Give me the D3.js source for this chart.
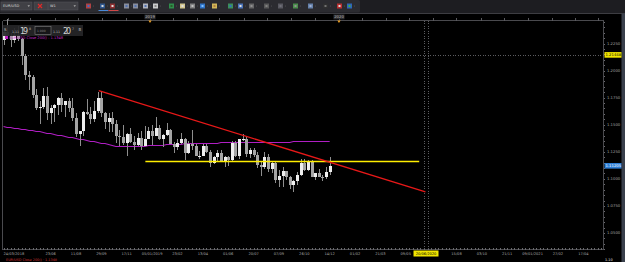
<!DOCTYPE html>
<html>
<head>
<meta charset="utf-8">
<script src="https://cdn.jsdelivr.net/npm/d3@7"></script>
<style>
  html, body { margin: 0; padding: 0; background: #000; overflow: hidden; }
  svg { display: block; font-family: "DejaVu Sans", sans-serif; }
</style>
</head>
<body>
<svg id="chart" width="625" height="262"></svg>
<script>
// weekly EUR/USD candles, first bar dated 24/03/2018
const firstWeek = '2018-03-24';
const opens = [1.2285,1.2352,1.2323,1.2280,1.2330,1.2287,1.2130,1.1960,1.1940,1.1770,
  1.1650,1.1660,1.1765,1.1610,1.1655,1.1685,1.1745,1.1685,1.1720,1.1655,
  1.1565,1.1410,1.1440,1.1620,1.1600,1.1550,1.1625,1.1745,1.1605,1.1525,
  1.1560,1.1510,1.1400,1.1385,1.1335,1.1415,1.1340,1.1315,1.1375,1.1305,
  1.1370,1.1445,1.1395,1.1470,1.1365,1.1405,1.1455,1.1325,1.1295,1.1335,
  1.1365,1.1235,1.1325,1.1300,1.1215,1.1215,1.1300,1.1245,1.1150,1.1200,
  1.1235,1.1160,1.1205,1.1170,1.1335,1.1210,1.1370,1.1370,1.1225,1.1270,
  1.1220,1.1125,1.1105,1.1200,1.1090,1.1145,1.0985,1.1030,1.1075,1.1015,
  1.0940,1.0980,1.1040,1.1145,1.1080,1.1165,1.1020,1.1050,1.1020,1.1015,1.1060];
const highs = [1.2388,1.2476,1.2345,1.2396,1.2414,1.2300,1.2150,1.1997,1.1955,1.1830,
  1.1720,1.1840,1.1852,1.1680,1.1690,1.1760,1.1790,1.1720,1.1750,1.1745,
  1.1610,1.1445,1.1625,1.1735,1.1660,1.1720,1.1800,1.1815,1.1620,1.1610,
  1.1620,1.1545,1.1455,1.1500,1.1420,1.1470,1.1400,1.1425,1.1445,1.1485,
  1.1475,1.1500,1.1570,1.1500,1.1415,1.1515,1.1465,1.1342,1.1370,1.1420,
  1.1375,1.1345,1.1450,1.1325,1.1255,1.1325,1.1325,1.1265,1.1215,1.1265,
  1.1265,1.1215,1.1215,1.1350,1.1350,1.1370,1.1410,1.1385,1.1285,1.1285,
  1.1250,1.1160,1.1250,1.1230,1.1155,1.1165,1.1085,1.1110,1.1075,1.1025,
  1.0985,1.1060,1.1180,1.1180,1.1175,1.1175,1.1055,1.1095,1.1040,1.1110,1.1200];
const lows = [1.2240,1.2290,1.2215,1.2255,1.2270,1.2055,1.1910,1.1820,1.1750,1.1640,
  1.1510,1.1645,1.1540,1.1508,1.1525,1.1590,1.1615,1.1575,1.1615,1.1530,
  1.1385,1.1300,1.1400,1.1590,1.1510,1.1525,1.1610,1.1575,1.1465,1.1430,
  1.1430,1.1335,1.1300,1.1315,1.1215,1.1335,1.1265,1.1305,1.1270,1.1300,
  1.1365,1.1310,1.1395,1.1355,1.1290,1.1395,1.1320,1.1235,1.1265,1.1325,
  1.1175,1.1225,1.1270,1.1210,1.1185,1.1215,1.1235,1.1110,1.1135,1.1160,
  1.1155,1.1105,1.1115,1.1165,1.1205,1.1180,1.1350,1.1205,1.1195,1.1200,
  1.1100,1.1025,1.1090,1.1065,1.1050,1.0965,1.0925,1.0925,1.0990,1.0905,
  1.0879,1.0940,1.1025,1.1070,1.1075,1.1015,1.0990,1.1015,1.0980,1.1000,1.1040];
const closes = [1.2352,1.2323,1.2280,1.2330,1.2287,1.2130,1.1960,1.1940,1.1770,1.1650,
  1.1660,1.1765,1.1610,1.1655,1.1685,1.1745,1.1685,1.1720,1.1655,1.1565,
  1.1410,1.1440,1.1620,1.1600,1.1550,1.1625,1.1745,1.1605,1.1525,1.1560,
  1.1510,1.1400,1.1385,1.1335,1.1415,1.1340,1.1315,1.1375,1.1305,1.1370,
  1.1445,1.1395,1.1470,1.1365,1.1405,1.1455,1.1325,1.1295,1.1335,1.1365,
  1.1235,1.1325,1.1300,1.1215,1.1215,1.1300,1.1245,1.1150,1.1200,1.1235,
  1.1160,1.1205,1.1170,1.1335,1.1210,1.1370,1.1370,1.1225,1.1270,1.1220,
  1.1125,1.1105,1.1200,1.1090,1.1145,1.0985,1.1030,1.1075,1.1015,1.0940,
  1.0980,1.1040,1.1145,1.1080,1.1165,1.1020,1.1050,1.1020,1.1015,1.1060,1.1120];
// 200 period moving average of the close, one value per bar
const ma200 = [1.1485,1.1481,1.1476,1.1472,1.1467,1.1463,1.1458,1.1453,1.1449,1.1444,
  1.1438,1.1432,1.1426,1.1420,1.1414,1.1408,1.1401,1.1395,1.1389,1.1383,
  1.1377,1.1370,1.1364,1.1358,1.1352,1.1346,1.1340,1.1333,1.1327,1.1320,
  1.1313,1.1306,1.1305,1.1304,1.1304,1.1305,1.1305,1.1306,1.1307,1.1308,
  1.1309,1.1312,1.1314,1.1315,1.1316,1.1318,1.1322,1.1324,1.1325,1.1326,
  1.1327,1.1328,1.1329,1.1330,1.1330,1.1331,1.1332,1.1332,1.1333,1.1334,
  1.1336,1.1337,1.1337,1.1338,1.1338,1.1339,1.1339,1.1340,1.1340,1.1340,
  1.1341,1.1341,1.1341,1.1342,1.1342,1.1342,1.1343,1.1343,1.1344,1.1344,
  1.1345,1.1345,1.1346,1.1346,1.1346,1.1347,1.1347,1.1347,1.1348,1.1348,1.1348];

const priceTicks = [1.05, 1.075, 1.10, 1.125, 1.15, 1.175, 1.20, 1.225];
const dateTicks = ['2018-06-23','2018-08-11','2018-09-29','2018-11-17','2019-01-05','2019-02-23',
  '2019-04-13','2019-06-01','2019-07-20','2019-09-07','2019-10-26','2019-12-14','2020-02-01',
  '2020-03-21','2020-05-09','2020-08-15','2020-10-03','2020-11-21','2021-01-09','2021-02-27','2021-04-17'];
const yearMarks = ['2019', '2020'];

const trendLine = [{date: '2018-09-24', price: 1.1815}, {date: '2020-06-16', price: 1.0880}];
const supportLine = [{date: '2018-12-23', price: 1.1165}, {date: '2020-06-04', price: 1.1165}];
const crossDates = ['2020-06-13', '2020-06-20'];
const crossPrice = 1.21448;
const lastPrice = 1.11205;
const maLabel = 'EUR/USD Close 200() : 1.1348';

const parse = d3.timeParse('%Y-%m-%d');
const svg = d3.select('#chart');

const x = d3.scaleTime().domain([parse('2018-03-23'), parse('2021-05-25')]).range([3, 603]);
const y = d3.scaleLinear().domain([1.05, 1.225]).range([233, 43.5]);
const plotTop = 20.5, plotBottom = 249.5, plotLeft = 2.5, plotRight = 603.5;
const px = v => Math.round(v) + 0.5;

const bars = closes.map((c, i) => ({
  date: d3.timeDay.offset(parse(firstWeek), 7 * i),
  o: opens[i], h: highs[i], l: lows[i], c: c, ma: ma200[i]
}));

// header / toolbar
svg.append('rect').attr('width', 625).attr('height', 13).attr('fill', '#1d1d21');
svg.append('rect').attr('x', 0).attr('y', 0).attr('width', 360).attr('height', 12.5).attr('rx', 1.5).attr('fill', '#2b2b30');
svg.append('line').attr('x1', 0).attr('x2', 625).attr('y1', 13.5).attr('y2', 13.5).attr('stroke', '#3d3d42');

const tb = svg.append('g');
tb.append('rect').attr('x', 1).attr('y', 2).attr('width', 31).attr('height', 8).attr('fill', '#404045').attr('stroke', '#56565c').attr('stroke-width', 0.5);
tb.append('text').attr('x', 3).attr('y', 7.3).attr('font-size', 3.6).attr('fill', '#d8d8d8').text('EUR/USD');
tb.append('path').attr('d', 'M27.5,5.3h2.5l-1.25,1.6z').attr('fill', '#aaa');
tb.append('rect').attr('x', 34).attr('y', 2).attr('width', 44).attr('height', 8).attr('fill', '#404045').attr('stroke', '#56565c').attr('stroke-width', 0.5);
tb.append('path').attr('d', 'M38,4l4,4M42,4l-4,4').attr('stroke', '#e02828').attr('stroke-width', 1.2);
tb.append('line').attr('x1', 48).attr('x2', 48).attr('y1', 2).attr('y2', 10).attr('stroke', '#56565c').attr('stroke-width', 0.5);
tb.append('text').attr('x', 50).attr('y', 7.3).attr('font-size', 3.6).attr('fill', '#d8d8d8').text('W1');
tb.append('path').attr('d', 'M73.5,5.3h2.5l-1.25,1.6z').attr('fill', '#aaa');

const icons = [
  [86, '#c84848', '#3c6cc8'], [100, '#2f5f9f', '#d8d8d8'], [110, '#a03030', '#e0e0e0'],
  [124, '#9aa0b0', '#5070b0'], [133, '#9aa0b0', '#5070b0'], [143, '#c8ccd8', '#5070b0'],
  [153, '#e8e8e8', '#888'], [169, '#30a050', '#2a5a2a'], [180, '#f0e0a0', '#e0e0e0'],
  [190, '#909090', '#c0c0c0'], [200, '#3080e0', '#80c0ff'], [212, '#f0d060', '#b08040'],
  [228, '#40a060', '#3070c0'], [238, '#5080d0', '#e0e0e0'], [249, '#707070', '#909090'],
  [264, '#606060', '#808080'], [278, '#606068', '#707078'], [293, '#50a050', '#909090'],
  [308, '#7090c0', '#a0b0d0'], [323, '#303030', '#707070'], [337, '#d03030', '#e0e0e0'],
  [347, '#3070d0', '#40b040']
];
icons.forEach(([ix, c1, c2]) => {
  tb.append('rect').attr('x', ix).attr('y', 3.5).attr('width', 5).attr('height', 5).attr('fill', c1).attr('opacity', 0.85);
  tb.append('rect').attr('x', ix + 1.5).attr('y', 5).attr('width', 2).attr('height', 2).attr('fill', c2);
  tb.append('circle').attr('cx', ix + 7.3).attr('cy', 6).attr('r', 0.4).attr('fill', '#777');
});
tb.append('line').attr('x1', 98.5).attr('x2', 108.5).attr('y1', 10.5).attr('y2', 10.5).attr('stroke', '#4a8ad8');
tb.append('line').attr('x1', 108.5).attr('x2', 118.5).attr('y1', 10.5).attr('y2', 10.5).attr('stroke', '#d04848');

// frame
const frame = svg.append('g').attr('stroke', '#4a4a4e').attr('shape-rendering', 'crispEdges');
frame.append('line').attr('x1', plotLeft).attr('x2', plotRight).attr('y1', plotTop).attr('y2', plotTop);
frame.append('line').attr('x1', plotLeft).attr('x2', plotRight).attr('y1', plotBottom).attr('y2', plotBottom);
frame.append('line').attr('x1', plotLeft).attr('x2', plotLeft).attr('y1', plotTop).attr('y2', plotBottom);
frame.append('line').attr('x1', plotRight).attr('x2', plotRight).attr('y1', plotTop).attr('y2', plotBottom);
svg.append('rect').attr('x', 621.5).attr('y', 13.5).attr('width', 3.5).attr('height', 249).attr('fill', '#3a404c');

// top axis: ticks every 1.5 months and year markers
const topTicks = [];
[2018, 2019, 2020, 2021].forEach(yr => {
  [[0, 1], [1, 15], [3, 1], [4, 15], [6, 1], [7, 15], [9, 1], [10, 15]].forEach(([m, d]) => topTicks.push(new Date(yr, m, d)));
});
svg.append('g').selectAll('line').data(topTicks.filter(d => x(d) > 4 && x(d) < 602)).join('line')
  .attr('x1', d => px(x(d))).attr('x2', d => px(x(d)))
  .attr('y1', plotTop - 2.5).attr('y2', plotTop).attr('stroke', '#5a5a5e').attr('shape-rendering', 'crispEdges');
yearMarks.forEach(yr => {
  const xx = x(new Date(+yr, 0, 1));
  svg.append('rect').attr('x', xx - 5.5).attr('y', 14.5).attr('width', 11).attr('height', 4.8).attr('fill', '#2e2e32');
  svg.append('text').attr('x', xx).attr('y', 18.2).attr('text-anchor', 'middle').attr('font-size', 3.8).attr('fill', '#b0b0b0').text(yr);
  svg.append('path').attr('d', `M${xx - 1.6},${plotTop}h3.2l-1.6,2.6z`).attr('fill', '#f0a020');
});

// bottom axis
svg.append('g').selectAll('line').data(d3.timeSaturday.range(x.domain()[0], x.domain()[1])).join('line')
  .attr('x1', d => px(x(d))).attr('x2', d => px(x(d)))
  .attr('y1', plotBottom - 1.5).attr('y2', plotBottom).attr('stroke', '#6a6a6e').attr('shape-rendering', 'crispEdges');
const fmtTick = d => d3.timeFormat(d.getMonth() === 0 ? '%d/%m/%Y' : '%d/%m')(d);
svg.append('g').selectAll('text').data(dateTicks.map(parse)).join('text')
  .attr('x', d => x(d)).attr('y', 254.8).attr('text-anchor', 'middle')
  .attr('font-size', 3.6).attr('fill', '#a8a8a8').text(fmtTick);
svg.append('text').attr('x', 3.5).attr('y', 254.8).attr('font-size', 3.6).attr('fill', '#a8a8a8')
  .text(d3.timeFormat('%d/%m/%Y')(parse(firstWeek)));
svg.append('text').attr('x', 6).attr('y', 261.2).attr('font-size', 3.4).attr('fill', '#d03030').text('EUR/USD Close 200() · 1.1348');
svg.append('text').attr('x', 605).attr('y', 261.2).attr('font-size', 3.4).attr('fill', '#e0e0e0').text('1.10');

// right price axis
const minorTicks = d3.range(1.035, 1.246, 0.005);
svg.append('g').selectAll('line').data(minorTicks).join('line')
  .attr('x1', plotRight).attr('x2', plotRight + 1.5)
  .attr('y1', d => px(y(d))).attr('y2', d => px(y(d)))
  .attr('stroke', '#6a6a6e').attr('shape-rendering', 'crispEdges');
svg.append('g').selectAll('text').data(priceTicks).join('text')
  .attr('x', plotRight + 3.5).attr('y', d => y(d) + 1.3)
  .attr('font-size', 3.8).attr('fill', '#a0a0a0').text(d => d.toFixed(4));

// crosshair
const cross = svg.append('g').attr('stroke', '#5c5c60').attr('stroke-dasharray', '1,1.5').attr('shape-rendering', 'crispEdges');
cross.append('line').attr('x1', plotLeft).attr('x2', plotRight).attr('y1', px(y(crossPrice))).attr('y2', px(y(crossPrice)));
crossDates.forEach(d => {
  const xx = px(x(parse(d)));
  cross.append('line').attr('x1', xx).attr('x2', xx).attr('y1', plotTop).attr('y2', plotBottom);
});

// moving average, snapped to pixel rows like the platform draws it
svg.append('path').datum(bars)
  .attr('d', d3.line().x(d => x(d.date)).y(d => px(y(d.ma))))
  .attr('fill', 'none').attr('stroke', '#b01ec4').attr('stroke-width', 1.2);

// candles
const bw = 2.6;
const cg = svg.append('g').attr('shape-rendering', 'crispEdges');
cg.selectAll('line').data(bars).join('line')
  .attr('x1', d => px(x(d.date))).attr('x2', d => px(x(d.date)))
  .attr('y1', d => y(d.h)).attr('y2', d => y(d.l))
  .attr('stroke', '#8e8e8e');
cg.selectAll('rect').data(bars).join('rect')
  .attr('x', d => px(x(d.date)) - bw / 2)
  .attr('y', d => y(Math.max(d.o, d.c)))
  .attr('width', bw)
  .attr('height', d => Math.max(1, Math.abs(y(d.o) - y(d.c))))
  .attr('fill', d => d.c >= d.o ? '#eeeeee' : '#a4a4a4');

// drawn lines
svg.append('path').datum(supportLine)
  .attr('d', d3.line().x(d => x(parse(d.date))).y(d => px(y(d.price))))
  .attr('fill', 'none').attr('stroke', '#ffee00').attr('stroke-width', 1.4);
svg.append('path').datum(trendLine)
  .attr('d', d3.line().x(d => x(parse(d.date))).y(d => y(d.price)))
  .attr('fill', 'none').attr('stroke', '#e81818').attr('stroke-width', 1.3);

// price labels
const ly = y(crossPrice);
svg.append('rect').attr('x', plotRight + 1).attr('y', ly - 2.8).attr('width', 17).attr('height', 5.6).attr('fill', '#f2e600');
svg.append('text').attr('x', plotRight + 2).attr('y', ly + 1.4).attr('font-size', 3.8).attr('fill', '#000').text(crossPrice.toFixed(5));
const by = y(lastPrice);
svg.append('rect').attr('x', plotRight + 1).attr('y', by - 2.8).attr('width', 17).attr('height', 5.6).attr('fill', '#2f7fd6');
svg.append('text').attr('x', plotRight + 2).attr('y', by + 1.4).attr('font-size', 3.8).attr('fill', '#fff').text(lastPrice.toFixed(5));
const cx = x(parse(crossDates[1]));
svg.append('rect').attr('x', cx - 14).attr('y', 250.5).attr('width', 25).attr('height', 6).attr('fill', '#f2e600');
svg.append('text').attr('x', cx - 1.5).attr('y', 255).attr('text-anchor', 'middle').attr('font-size', 3.6).attr('fill', '#000')
  .text(d3.timeFormat('%d/%m/%Y')(parse(crossDates[1])));

// trade ticket widget
const tk = svg.append('g').attr('transform', 'translate(3,25)');
tk.append('rect').attr('width', 80).attr('height', 11).attr('fill', '#262628').attr('opacity', 0.92);
tk.append('rect').attr('x', 32).attr('y', 1.5).attr('width', 16).attr('height', 8).attr('fill', '#161618').attr('stroke', '#808080').attr('stroke-width', 0.6);
tk.append('text').attr('x', 1).attr('y', 6).attr('font-size', 4).attr('fill', '#bbb').text('S');
tk.append('text').attr('x', 9).attr('y', 8.2).attr('font-size', 3.2).attr('fill', '#bbb').text('1.11');
tk.append('text').attr('x', 17).attr('y', 9).attr('font-size', 8).attr('fill', '#d0d0d0').attr('textLength', 8).text('19');
tk.append('text').attr('x', 26).attr('y', 4.5).attr('font-size', 3.2).attr('fill', '#bbb').text('8');
tk.append('text').attr('x', 34).attr('y', 6.8).attr('font-size', 3).attr('fill', '#888').text('1,000');
tk.append('text').attr('x', 50).attr('y', 8.2).attr('font-size', 3.2).attr('fill', '#bbb').text('1.11');
tk.append('text').attr('x', 60).attr('y', 9).attr('font-size', 8).attr('fill', '#d0d0d0').attr('textLength', 8).text('20');
tk.append('text').attr('x', 69).attr('y', 4.5).attr('font-size', 3.2).attr('fill', '#bbb').text('7');
tk.append('text').attr('x', 75.5).attr('y', 6).attr('font-size', 4).attr('fill', '#bbb').text('B');

svg.append('rect').attr('x', 5).attr('y', 36).attr('width', 3).attr('height', 3).attr('fill', '#c020c0');
svg.append('text').attr('x', 9).attr('y', 38.8).attr('font-size', 3.6).attr('fill', '#c828c8').text(maLabel);
</script>
</body>
</html>
